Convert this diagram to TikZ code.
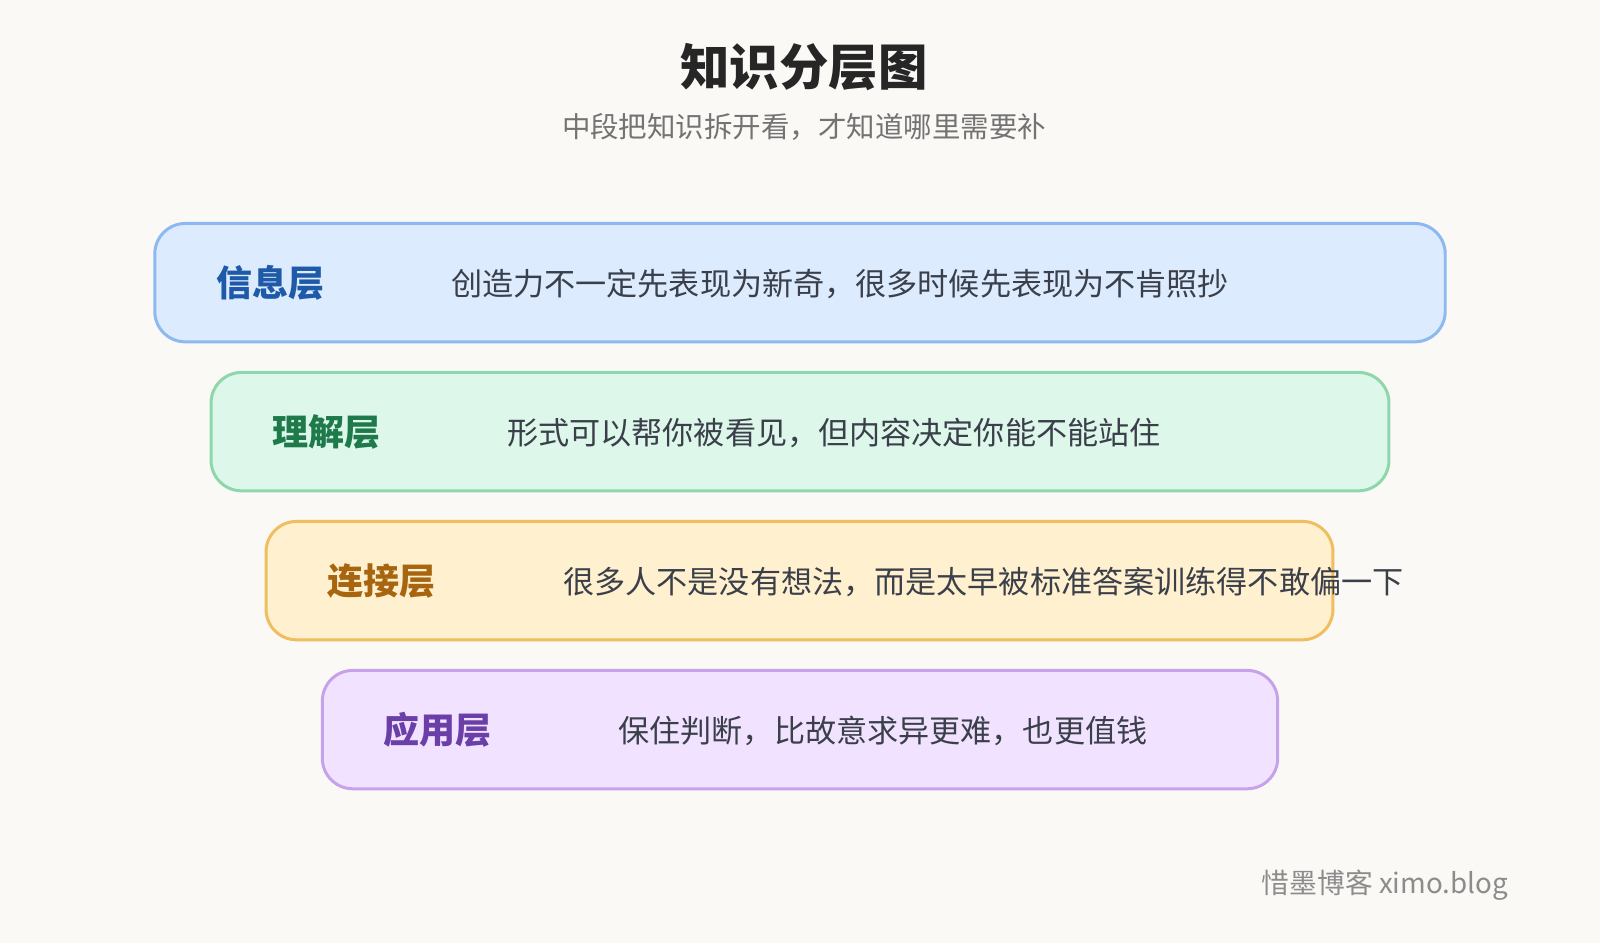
\documentclass[tikz,border=0pt]{standalone}
\usepackage{fontspec}
\setmainfont{Noto Sans CJK SC}
\usepackage{xcolor}
\definecolor{bgc}{HTML}{FAF9F5}
\definecolor{txt}{HTML}{3A3F4A}
\definecolor{fA}{HTML}{DCEBFE}\definecolor{dA}{HTML}{8DB8F0}\definecolor{lA}{HTML}{1E5AA8}
\definecolor{fB}{HTML}{DDF7EA}\definecolor{dB}{HTML}{8ED6AC}\definecolor{lB}{HTML}{1E7A4A}
\definecolor{fC}{HTML}{FFF1CF}\definecolor{dC}{HTML}{F0BE60}\definecolor{lC}{HTML}{A8650F}
\definecolor{fD}{HTML}{F1E3FF}\definecolor{dD}{HTML}{C6A2EC}\definecolor{lD}{HTML}{6A3FA8}
\tikzset{
  layer/.style={draw=#1, line width=1.7pt, rounded corners=0.61cm, minimum height=2.367cm, inner sep=0pt},
  tag/.style={font=\fontsize{20.5}{24}\selectfont\bfseries, text=#1},
  desc/.style={font=\fontsize{17.7}{21}\selectfont, text=txt, anchor=west}
}
\begin{document}
\begin{tikzpicture}[x=0.020408cm,y=-0.020408cm]
\useasboundingbox (0,0) rectangle (1568,924);
\fill[bgc] (0,0) rectangle (1568,924);
\node[font=\fontsize{28.1}{33}\selectfont\bfseries, text=black!85] (title) at (788,66) {知识分层图};
\node[font=\fontsize{16.2}{19}\selectfont, text=black!55] (sub) at (788,124) {中段把知识拆开看，才知道哪里需要补};
\node[layer=dA, fill=fA, minimum width=25.8cm] (b1) at (784,277) {};
\node[layer=dB, fill=fB, minimum width=23.55cm] (b2) at (784,423) {};
\node[layer=dC, fill=fC, minimum width=21.33cm] (b3) at (783.5,569) {};
\node[layer=dD, fill=fD, minimum width=19.1cm] (b4) at (784,715) {};
\node[tag=lA] (t1) at (265,277) {信息层};
\node[tag=lB] (t2) at (320,423) {理解层};
\node[tag=lC] (t3) at (374,569) {连接层};
\node[tag=lD] (t4) at (429,715) {应用层};
\node[desc] (d1) at (436,278) {创造力不一定先表现为新奇，很多时候先表现为不肯照抄};
\node[desc] (d2) at (491,424) {形式可以帮你被看见，但内容决定你能不能站住};
\node[desc] (d3) at (546,570) {很多人不是没有想法，而是太早被标准答案训练得不敢偏一下};
\node[desc] (d4) at (600,716) {保住判断，比故意求异更难，也更值钱};
\node[font=\fontsize{15.8}{19}\selectfont, text=black!45, anchor=east] (foot) at (1484,867) {惜墨博客 ximo.blog};
\end{tikzpicture}
\end{document}
